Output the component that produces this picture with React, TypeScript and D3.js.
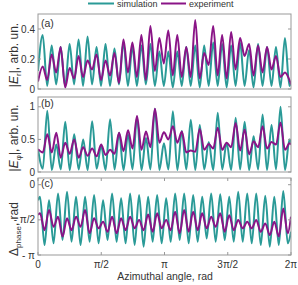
import React from 'react';
import * as d3 from 'd3';

// extrema positions (rad) and values
const gridA = [0, 0.117, 0.228, 0.340, 0.451, 0.562, 0.674, 0.785, 0.896, 1.008, 1.119, 1.231, 1.342, 1.454, 1.565, 1.677, 1.788, 1.899, 2.011, 2.122, 2.233, 2.345, 2.456, 2.568, 2.679, 2.791, 2.902, 3.014, 3.125, 3.236, 3.348, 3.459, 3.570, 3.682, 3.793, 3.905, 4.016, 4.128, 4.239, 4.351, 4.462, 4.573, 4.685, 4.796, 4.907, 5.019, 5.130, 5.242, 5.353, 5.465, 5.576, 5.688, 5.799, 5.910, 6.022, 6.133, 6.244, 6.283];
const erSim = [0.12, 0.36, 0.02, 0.29, 0.03, 0.28, 0.02, 0.30, 0.03, 0.33, 0.02, 0.35, 0.03, 0.28, 0.02, 0.30, 0.02, 0.27, 0.03, 0.31, 0.02, 0.28, 0.02, 0.29, 0.03, 0.30, 0.02, 0.25, 0.02, 0.25, 0.01, 0.25, 0.02, 0.28, 0.02, 0.29, 0.01, 0.29, 0.02, 0.31, 0.02, 0.30, 0.01, 0.29, 0.02, 0.31, 0.02, 0.26, 0.01, 0.30, 0.02, 0.28, 0.02, 0.28, 0.01, 0.34, 0.02, 0.04];
const erExp = [0.05, 0.15, 0.06, 0.23, 0.11, 0.28, 0.01, 0.14, 0.07, 0.22, 0.08, 0.19, 0.13, 0.23, 0.06, 0.19, 0.09, 0.24, 0.04, 0.33, 0.11, 0.31, 0.08, 0.36, 0.06, 0.42, 0.12, 0.34, 0.17, 0.39, 0.09, 0.36, 0.08, 0.28, 0.08, 0.46, 0.07, 0.24, 0.16, 0.42, 0.09, 0.36, 0.07, 0.38, 0.13, 0.34, 0.22, 0.30, 0.09, 0.29, 0.11, 0.28, 0.13, 0.22, 0.08, 0.11, 0.06, 0.03];

const gridB = [0, 0.119, 0.231, 0.342, 0.454, 0.565, 0.677, 0.787, 0.899, 1.010, 1.122, 1.233, 1.345, 1.456, 1.568, 1.678, 1.790, 1.901, 2.013, 2.124, 2.236, 2.347, 2.459, 2.570, 2.682, 2.792, 2.904, 3.015, 3.127, 3.238, 3.350, 3.461, 3.573, 3.683, 3.795, 3.906, 4.018, 4.129, 4.241, 4.352, 4.464, 4.574, 4.686, 4.797, 4.909, 5.020, 5.132, 5.243, 5.355, 5.466, 5.578, 5.688, 5.800, 5.911, 6.023, 6.134, 6.246, 6.283];
const ephiSim = [0.35, 0.05, 0.94, 0.03, 0.42, 0.04, 0.77, 0.03, 0.58, 0.04, 0.50, 0.03, 0.78, 0.05, 0.40, 0.03, 0.81, 0.04, 0.60, 0.03, 0.58, 0.04, 0.84, 0.03, 0.52, 0.04, 0.97, 0.03, 0.44, 0.04, 0.93, 0.03, 0.63, 0.04, 0.80, 0.03, 0.72, 0.04, 0.46, 0.03, 0.91, 0.04, 0.45, 0.03, 0.83, 0.04, 0.77, 0.03, 0.55, 0.04, 0.88, 0.03, 0.72, 0.04, 1.00, 0.03, 0.50, 0.45];
const ephiExp = [0.35, 0.30, 0.58, 0.30, 0.60, 0.22, 0.45, 0.28, 0.50, 0.22, 0.38, 0.25, 0.36, 0.24, 0.42, 0.26, 0.34, 0.28, 0.60, 0.32, 0.64, 0.36, 0.86, 0.34, 0.62, 0.38, 0.97, 0.45, 0.61, 0.50, 0.70, 0.45, 0.62, 0.30, 0.33, 0.31, 0.66, 0.34, 0.43, 0.36, 0.68, 0.34, 0.45, 0.38, 0.75, 0.33, 0.65, 0.27, 0.47, 0.38, 0.70, 0.36, 0.46, 0.42, 0.76, 0.34, 0.44, 0.42];

const gridC = [0, 0.050, 0.162, 0.274, 0.386, 0.498, 0.610, 0.721, 0.833, 0.945, 1.057, 1.169, 1.281, 1.393, 1.505, 1.616, 1.728, 1.840, 1.952, 2.064, 2.176, 2.288, 2.400, 2.511, 2.623, 2.735, 2.847, 2.959, 3.071, 3.183, 3.295, 3.406, 3.518, 3.630, 3.742, 3.854, 3.966, 4.078, 4.190, 4.301, 4.413, 4.525, 4.637, 4.749, 4.861, 4.972, 5.084, 5.196, 5.308, 5.420, 5.532, 5.644, 5.756, 5.868, 5.980, 6.091, 6.203, 6.283];
const phaseSim = [-0.70, -0.54, -2.70, -0.69, -2.62, -0.39, -2.47, -0.31, -2.55, -0.54, -2.70, -0.54, -2.55, -0.46, -2.62, -0.69, -2.47, -0.39, -2.55, -0.61, -2.62, -0.39, -2.70, -0.46, -2.77, -0.54, -2.55, -0.46, -2.62, -0.61, -2.55, -0.39, -2.47, -0.39, -2.62, -0.46, -2.55, -0.54, -2.40, -0.39, -2.55, -0.43, -2.47, -0.54, -2.55, -0.31, -2.55, -0.39, -2.62, -0.39, -2.70, -0.49, -2.77, -0.54, -2.70, -0.28, -2.62, -2.10];
const phaseExp = [-1.35, -1.28, -2.03, -1.13, -1.88, -1.43, -2.32, -1.50, -2.03, -1.43, -1.88, -1.13, -2.17, -1.50, -1.95, -1.65, -2.10, -1.43, -2.17, -1.50, -2.03, -1.43, -1.95, -1.58, -2.03, -1.33, -2.10, -1.28, -1.95, -1.58, -2.03, -1.21, -2.17, -1.13, -2.10, -1.21, -2.03, -1.28, -1.95, -1.43, -1.88, -1.28, -2.10, -1.36, -2.03, -1.58, -1.95, -1.65, -1.95, -1.58, -2.10, -1.73, -2.25, -1.65, -2.32, -1.06, -2.17, -1.43];

const xTicks = [0, Math.PI / 2, Math.PI, (3 * Math.PI) / 2, 2 * Math.PI];
const xTickLabels = ['0', 'π/2', 'π', '3π/2', '2π'];
const seriesNames = ['simulation', 'experiment'];

const TEAL = '#2a9a97';
const PURPLE = '#8a1487';
const AXIS = '#999';
const TEXT = '#333';
const FONT = '"Liberation Sans", Arial, sans-serif';

const x = d3.scaleLinear().domain([0, 2 * Math.PI]).range([38, 291]);

function Panel({ id, top, bottom, domain, ticks, tickLabels, grid, sim, exp, tag, tagY, label, labelY, xTickMarks }) {
  const y = d3.scaleLinear().domain(domain).range([bottom, top]);
  const line = d3.line<number>()
    .x((_, i) => x(grid[i]))
    .y(d => y(d))
    .curve(d3.curveMonotoneX);
  const [x0, x1] = x.range();
  return (
    <g>
      <clipPath id={`clip-${id}`}>
        <rect x={x0} y={top} width={x1 - x0} height={bottom - top} />
      </clipPath>
      <g clipPath={`url(#clip-${id})`}>
        <path d={line(sim) || ''} fill="none" stroke={TEAL} strokeWidth={2} />
        <path d={line(exp) || ''} fill="none" stroke={PURPLE} strokeWidth={2} />
      </g>
      <rect x={x0} y={top} width={x1 - x0} height={bottom - top} fill="none" stroke={AXIS} strokeWidth={1} />
      {ticks.map((t, i) => (
        <g key={i}>
          <line x1={x0} x2={x0 + 3} y1={y(t)} y2={y(t)} stroke={AXIS} />
          <line x1={x1} x2={x1 - 3} y1={y(t)} y2={y(t)} stroke={AXIS} />
          <text x={35} y={y(t)} dy="0.35em" textAnchor="end" fontSize={10} fill={TEXT} fontFamily={FONT}>{tickLabels[i]}</text>
        </g>
      ))}
      {xTickMarks && xTicks.map((t, i) => (
        <g key={i}>
          <line x1={x(t)} x2={x(t)} y1={bottom} y2={bottom - 3} stroke={AXIS} />
          <line x1={x(t)} x2={x(t)} y1={top} y2={top + 3} stroke={AXIS} />
        </g>
      ))}
      <text x={41} y={tagY} fontSize={10.5} fill={TEXT} fontFamily={FONT}>{tag}</text>
      <text transform={`translate(18,${labelY}) rotate(-90)`} textAnchor="middle" fontSize={12} fill={TEXT} fontFamily={FONT}>{label}</text>
    </g>
  );
}

export default function App() {
  return (
    <svg width={298} height={285} style={{ position: 'absolute', left: 0, top: 0, background: '#fff' }}>
      {/* legend */}
      <line x1={88} x2={114} y1={3.5} y2={3.5} stroke={TEAL} strokeWidth={2} />
      <text x={117} y={7} fontSize={9} fill={TEXT} fontFamily={FONT}>{seriesNames[0]}</text>
      <line x1={161} x2={186} y1={3.5} y2={3.5} stroke={PURPLE} strokeWidth={2} />
      <text x={189} y={7} fontSize={9} fill={TEXT} fontFamily={FONT}>{seriesNames[1]}</text>

      <Panel id="a" top={14} bottom={89} domain={[0, 0.5]} ticks={[0, 0.2, 0.4]} tickLabels={['0', '0.2', '0.4']}
        grid={gridA} sim={erSim} exp={erExp} tag="(a)" tagY={27} labelY={55}
        label={<>|<tspan fontStyle="italic">E</tspan><tspan fontSize={8} dy={3}>r</tspan><tspan dy={-3}>|, arb. un.</tspan></>} />
      <Panel id="b" top={97} bottom={172} domain={[0, 1.15]} ticks={[0, 0.5, 1]} tickLabels={['0', '0.5', '1']}
        grid={gridB} sim={ephiSim} exp={ephiExp} tag="(b)" tagY={107} labelY={138}
        label={<>|<tspan fontStyle="italic">E</tspan><tspan fontSize={8} dy={3}>φ</tspan><tspan dy={-3}>|, arb. un.</tspan></>} />
      <Panel id="c" top={178} bottom={255} domain={[-Math.PI, 0.3]} ticks={[-Math.PI, -Math.PI / 2, 0]} tickLabels={['- π', '- π/2', '0']}
        grid={gridC} sim={phaseSim} exp={phaseExp} tag="(c)" tagY={187} labelY={229} xTickMarks
        label={<>Δ<tspan fontSize={8} dy={3}>phase</tspan><tspan dy={-3}>, rad</tspan></>} />

      {xTicks.map((t, i) => (
        <text key={i} x={x(t)} y={268} textAnchor="middle" fontSize={10} fill={TEXT} fontFamily={FONT}>{xTickLabels[i]}</text>
      ))}
      <text x={165} y={280} textAnchor="middle" fontSize={10.5} fill={TEXT} fontFamily={FONT}>Azimuthal angle, rad</text>
    </svg>
  );
}
